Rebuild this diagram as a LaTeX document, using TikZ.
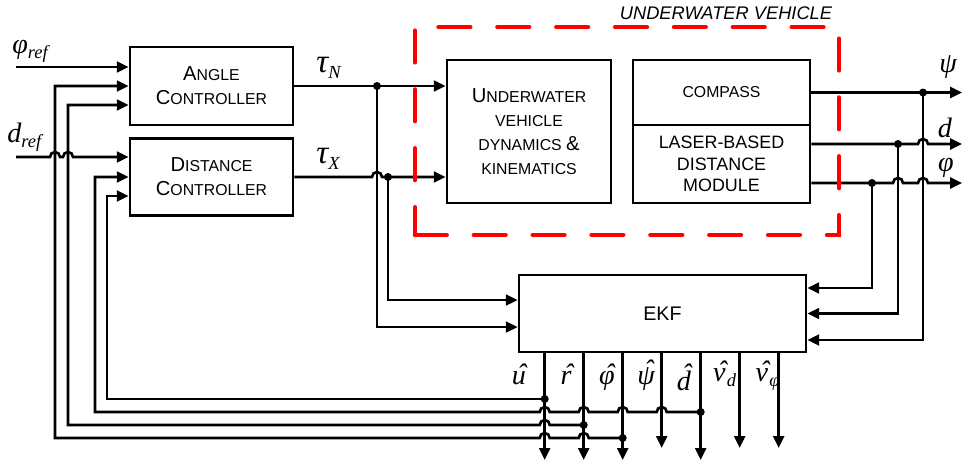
\documentclass[tikz,border=0pt]{standalone}
\usepackage{fontspec}
\setmainfont{Liberation Sans}
\newfontfamily\tnr{Liberation Serif}
\usepackage{tikz}
\usetikzlibrary{arrows.meta,calc}

\newcommand{\capbig}[1]{{\fontsize{11.5pt}{13.8pt}\selectfont #1}}
\newcommand{\idx}[1]{\raisebox{-0.4ex}{\fontsize{10.5pt}{10.5pt}\selectfont #1}}
\newcommand{\hatof}[1]{\vbox{\offinterlineskip\halign{\hfil##\hfil\cr\kern0.2em ˆ\cr\noalign{\kern-0.45em}#1\cr}}}
\newcommand{\hopx}[2]{-- ($(#1|-#2)+(-5,0)$) arc[start angle=180,end angle=360,radius=5]}

\begin{document}
\begin{tikzpicture}[x=0.02cm,y=-0.02cm,
    block/.style={draw=black,line width=1.5pt,align=center,inner sep=0pt,
      font=\fontsize{9pt}{13.8pt}\selectfont},
    flow/.style={-{Triangle[length=6.8pt,width=6.2pt]},line width=1.5pt},
    back/.style={{Triangle[length=6.8pt,width=6.2pt]}-,line width=1.5pt},
    sym/.style={inner sep=0pt,font=\tnr\itshape\fontsize{16pt}{16pt}\selectfont},
    hatlab/.style={inner sep=0pt,font=\tnr\itshape\fontsize{16pt}{16pt}\selectfont},
    vehicle/.style={draw=red,line width=2.6pt,line cap=round,
      dash pattern=on 18pt off 15.5pt,minimum width=8.48cm,minimum height=4.16cm},
    vlabel/.style={inner sep=0pt,font=\itshape\fontsize{10.4pt}{12pt}\selectfont}
  ]
    \useasboundingbox (0,0) rectangle (964,468);
    \node[block,minimum width=3.26cm,minimum height=1.56cm] (ang) at (211.5,86)
      {\capbig{A}NGLE\\\capbig{C}ONTROLLER};
    \node[block,minimum width=3.26cm,minimum height=1.54cm] (dist) at (211.5,177)
      {\capbig{D}ISTANCE\\\capbig{C}ONTROLLER};
    \node[block,minimum width=3.28cm,minimum height=2.86cm] (uvd) at (529,131.5)
      {\capbig{U}NDERWATER\\VEHICLE\\DYNAMICS \capbig{\&}\\KINEMATICS};
    \node[block,minimum width=3.54cm,minimum height=1.3cm] (comp) at (721.5,92.5) {COMPASS};
    \node[block,minimum width=3.54cm,minimum height=1.56cm,
      font=\fontsize{10.2pt}{12.3pt}\selectfont] (laser) at (721.5,164)
      {LASER-BASED\\DISTANCE\\MODULE};
    \node[block,minimum width=5.74cm,minimum height=1.54cm,
      font=\fontsize{11.2pt}{13pt}\selectfont] (ekf) at (662.5,313.5) {EKF};

    \node[sym,anchor=base west] (phiref) at (12,53) {φ\idx{ref}};
    \node[sym,anchor=base west] (dref) at (7,142) {d\idx{ref}};
    \node[sym,anchor=base west,font=\tnr\itshape\fontsize{19pt}{19pt}\selectfont] (tauN) at (316,72) {τ\idx{N}};
    \node[sym,anchor=base west,font=\tnr\itshape\fontsize{19pt}{19pt}\selectfont] (tauX) at (316,163) {τ\idx{X}};
    \node[sym,anchor=base] (psilab) at (948,72) {ψ};
    \node[sym,anchor=base] (dlab) at (945,137) {d};
    \node[sym,anchor=base] (philab) at (946,171) {φ};

    \coordinate (phin) at (16,67);
    \coordinate (din) at (16,157);
    \coordinate (fbA) at (55,438);
    \coordinate (fbB) at (68,425);
    \coordinate (fbC) at (95,412);
    \coordinate (fbD) at (107,399);
    \coordinate (angin) at ($(ang.west)+(0,19)$);
    \coordinate (distin) at ($(dist.west)+(0,19)$);
    \coordinate (tapN) at (377,86);
    \coordinate (tapX) at (388,177);
    \coordinate (ekfl1) at ($(ekf.west)+(0,-13.5)$);
    \coordinate (ekfl2) at ($(ekf.west)+(0,13.5)$);
    \coordinate (ekfr1) at ($(ekf.east)+(0,-25.5)$);
    \coordinate (ekfr3) at ($(ekf.east)+(0,26.5)$);
    \coordinate (dline) at ($(laser.east)+(0,-20)$);
    \coordinate (philine) at ($(laser.east)+(0,19)$);
    \coordinate (tapPsi) at (923,92.5);
    \coordinate (tapD) at (898,144);
    \coordinate (tapPhi) at (872,183);
    \coordinate (outR) at (962,0);
    \coordinate (o1) at ($(ekf.south west)+(27,0)$);
    \coordinate (o2) at ($(ekf.south west)+(66,0)$);
    \coordinate (o3) at ($(ekf.south west)+(105,0)$);
    \coordinate (o4) at ($(ekf.south west)+(144,0)$);
    \coordinate (o5) at ($(ekf.south west)+(183,0)$);
    \coordinate (o6) at ($(ekf.south west)+(222,0)$);
    \coordinate (o7) at ($(ekf.south west)+(261,0)$);
    \coordinate (bot) at (0,460);
    \coordinate (bot2) at (0,448);

    \draw[flow] (phin) -- (ang.west|-phin);
    \draw[flow] (din) \hopx{fbA}{din} \hopx{fbB}{din} -- (dist.west|-din);
    \draw[flow] (ang.east) -- (uvd.west|-ang.east);
    \draw[flow] (dist.east) \hopx{tapN}{dist.east} -- (uvd.west|-dist.east);
    \draw[flow] (tapN) -- (tapN|-ekfl2) -- (ekfl2);
    \draw[flow] (tapX) -- (tapX|-ekfl1) -- (ekfl1);
    \fill (tapN) circle[radius=4];
    \fill (tapX) circle[radius=4];

    \draw[flow] (comp.east) -- (outR|-comp.east);
    \draw[flow] (dline) \hopx{tapPsi}{dline} -- (outR|-dline);
    \draw[flow] (philine) \hopx{tapD}{philine} \hopx{tapPsi}{philine} -- (outR|-philine);
    \draw[flow] (tapPhi) -- (tapPhi|-ekfr1) -- (ekfr1);
    \draw[flow] (tapD) -- (tapD|-ekf.east) -- (ekf.east);
    \draw[flow] (tapPsi) -- (tapPsi|-ekfr3) -- (ekfr3);
    \fill (tapPsi) circle[radius=4];
    \fill (tapD) circle[radius=4];
    \fill (tapPhi) circle[radius=4];

    \draw[flow] (o1) -- (o1|-bot);
    \draw[flow] (o2) -- (o2|-bot);
    \draw[flow] (o3) -- (o3|-bot);
    \draw[flow] (o4) -- (o4|-bot2);
    \draw[flow] (o5) -- (o5|-bot);
    \draw[flow] (o6) -- (o6|-bot2);
    \draw[flow] (o7) -- (o7|-bot2);
    \node[hatlab,anchor=base] (uhat) at (519,384) {\hatof{u}};
    \node[hatlab,anchor=base] (rhat) at (566,384) {\hatof{r}};
    \node[hatlab,anchor=base] (phihat) at (607,384) {\hatof{φ}};
    \node[hatlab,anchor=base] (psihat) at (646,384) {\hatof{ψ}};
    \node[hatlab,anchor=base] (dhat) at (684,390) {\hatof{d}};
    \node[hatlab,anchor=base] (vdhat) at (724,381) {\hatof{v}\idx{d}};
    \node[hatlab,anchor=base] (vphihat) at (767,381) {\hatof{v}\idx{φ}};

    \draw[back] (ang.west) -- (fbA|-ang.west) -- (fbA) \hopx{o1}{fbA} \hopx{o2}{fbA} -- (o3|-fbA);
    \draw[back] (angin) -- (fbB|-angin) -- (fbB) \hopx{o1}{fbB} -- (o2|-fbB);
    \draw[back] (dist.west) -- (fbC|-dist.west) -- (fbC) \hopx{o1}{fbC} \hopx{o2}{fbC}
      \hopx{o3}{fbC} \hopx{o4}{fbC} -- (o5|-fbC);
    \draw[back] (distin) -- (fbD|-distin) -- (fbD) -- (o1|-fbD);
    \fill (o3|-fbA) circle[radius=4];
    \fill (o2|-fbB) circle[radius=4];
    \fill (o5|-fbC) circle[radius=4];
    \fill (o1|-fbD) circle[radius=4];

    \node[vehicle] (uv) at (627,131) {};
    \node[vlabel] (uvlab) at (726,13) {UNDERWATER VEHICLE};
  \end{tikzpicture}
\end{document}
